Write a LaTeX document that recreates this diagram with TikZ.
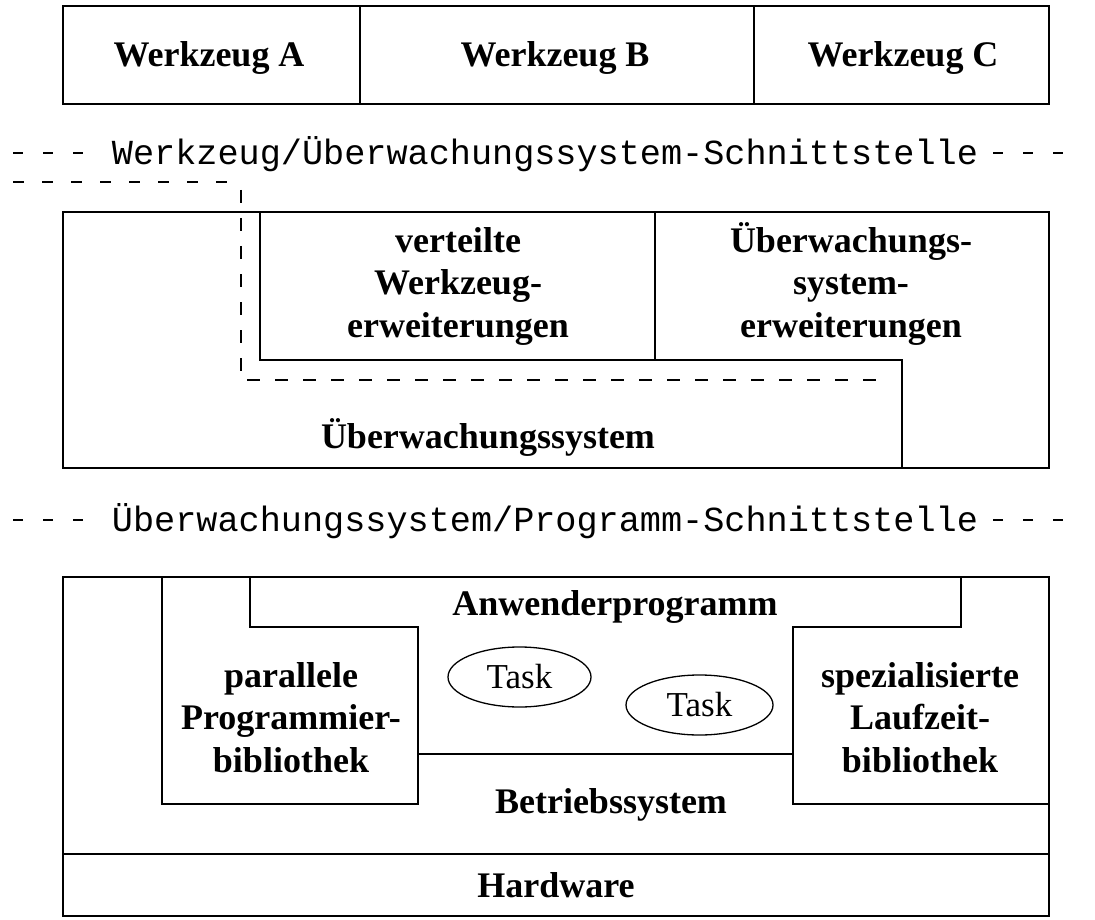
\documentclass[tikz,border=0pt]{standalone}
\usepackage{fontspec}
\setmainfont{Liberation Serif}
\setmonofont{Liberation Mono}
\usetikzlibrary{shapes.geometric}
\begin{document}
\begin{tikzpicture}[x=1pt,y=-1pt,
  box/.style={line width=1.5pt},
  dline/.style={line width=1.3pt,dash pattern=on 10pt off 20pt},
  bline/.style={line width=1.3pt,dash pattern=on 13pt off 15pt},
  lbl/.style={font=\bfseries\fontsize{36}{42.5}\selectfont,align=center,inner sep=0pt,anchor=base},
  iface/.style={font=\ttfamily\fontsize{35.2}{40}\selectfont,inner sep=0pt,anchor=base},
  task/.style={draw,ellipse,line width=1.3pt,minimum width=#1,minimum height=60pt,inner sep=0pt,font=\fontsize{35}{40}\selectfont}]
\useasboundingbox (0,0) rectangle (1095,920);
% ---- top: tools
\draw[box] (63,6) rectangle (1049,104);
\draw[box] (360,6) -- (360,104) (754,6) -- (754,104);
\node[lbl] (wa) at (209,67) {Werkzeug A};
\node[lbl] (wb) at (555,67) {Werkzeug B};
\node[lbl] (wc) at (903,67) {Werkzeug C};
% ---- interface 1
\node[iface] (if1) at (545,165) {Werkzeug/Überwachungssystem-Schnittstelle};
\coordinate (d1a) at (13,153); \coordinate (d1b) at (83,153);
\coordinate (d1c) at (993,153); \coordinate (d1d) at (1063,153);
\draw[dline] (d1a) -- (d1b);
\draw[dline] (d1c) -- (d1d);
\coordinate (b0) at (13,182); \coordinate (b1) at (233,182);
\coordinate (b2) at (241,190); \coordinate (b3) at (241,380); \coordinate (b4) at (882,380);
\draw[bline,dash pattern=on 11pt off 18pt] (b0) -- (b1);
\draw[bline] (b2) -- (b3) -- (b4);
% ---- monitoring system
\draw[box] (63,212) rectangle (1049,468);
\draw[box] (260,212) rectangle (655,360);
\draw[box] (655,360) -- (902,360) -- (902,468);
\node[lbl] (vw) at (458,337) {verteilte\\Werkzeug-\\erweiterungen};
\node[lbl] (ue) at (851,337) {Überwachungs-\\system-\\erweiterungen};
\node[lbl] (us) at (488,448) {Überwachungssystem};
% ---- interface 2
\node[iface] (if2) at (545,531) {Überwachungssystem/Programm-Schnittstelle};
\coordinate (d2a) at (13,520); \coordinate (d2b) at (83,520);
\coordinate (d2c) at (993,520); \coordinate (d2d) at (1063,520);
\draw[dline] (d2a) -- (d2b);
\draw[dline] (d2c) -- (d2d);
% ---- program side
\draw[box] (63,577) rectangle (1049,916);
\draw[box] (63,854) -- (1049,854);
\draw[box] (250,577) -- (250,627) -- (418,627) -- (418,804) -- (162,804) -- (162,577);
\draw[box] (418,754) -- (793,754);
\draw[box] (961,577) -- (961,627) -- (793,627) -- (793,804) -- (1049,804);
\node[lbl] (ap) at (615,615) {Anwenderprogramm};
\node[lbl] (pp) at (291,772) {parallele\\Programmier-\\bibliothek};
\node[lbl] (sl) at (920,772) {spezialisierte\\Laufzeit-\\bibliothek};
\node[task=143pt] (t1) at (519.5,677) {Task};
\node[task=147pt] (t2) at (699.5,705) {Task};
\node[lbl] (bs) at (611,813) {Betriebssystem};
\node[lbl] (hw) at (556,897) {Hardware};
\end{tikzpicture}
\end{document}
